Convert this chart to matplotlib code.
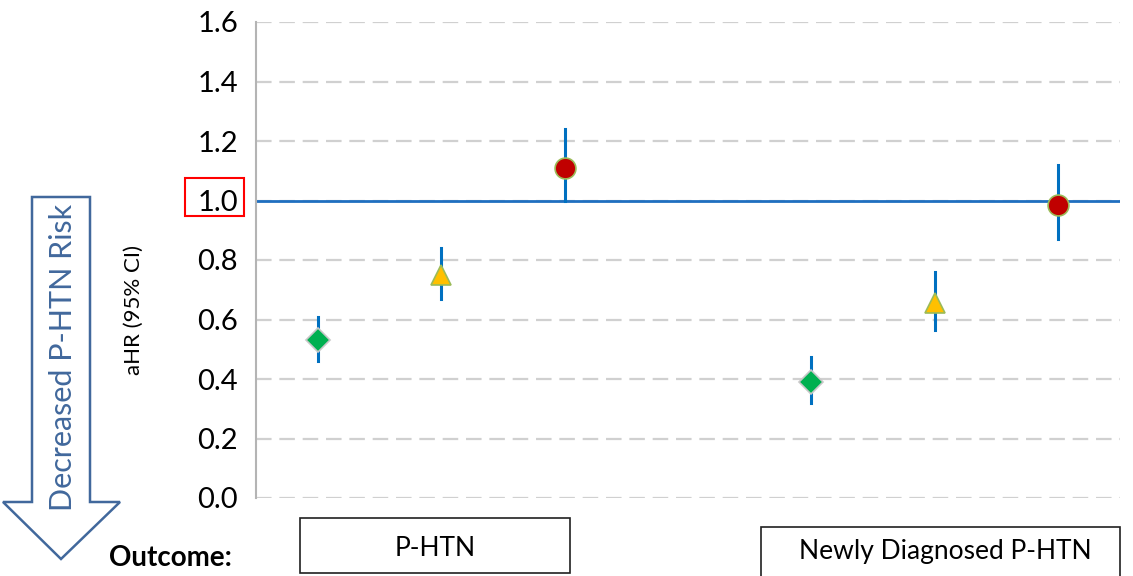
import matplotlib as mpl
mpl.use("Agg")
import matplotlib.pyplot as plt
from matplotlib.patches import Rectangle, Polygon

plt.rcParams['font.family'] = ['Lato', 'DejaVu Sans']

# aHR estimates and 95% CI, two outcomes x three exposures
x_pos = [1, 2, 3, 5, 6, 7]
ahr = [0.53, 0.75, 1.11, 0.39, 0.655, 0.985]
ci_low = [0.46, 0.67, 1.00, 0.32, 0.565, 0.87]
ci_high = [0.61, 0.84, 1.24, 0.475, 0.76, 1.12]
markers = ['D', '^', 'o', 'D', '^', 'o']
yticks = [0.0, 0.2, 0.4, 0.6, 0.8, 1.0, 1.2, 1.4, 1.6]
outcomes = ['P-HTN', 'Newly Diagnosed P-HTN']

W, H = 1133, 576
fig = plt.figure(figsize=(W / 100, H / 100), dpi=100)
ax = fig.add_axes([256 / W, 1 - 498 / H, (1120 - 256) / W, (498 - 22) / H])

ax.set_xlim(0.5, 7.5)
ax.set_ylim(0, 1.6)
ax.set_yticks(yticks)
ax.set_yticklabels(['%.1f' % t for t in yticks], fontsize=21)
ax.set_xticks([])
ax.tick_params(axis='y', length=0, pad=13)
ax.yaxis.grid(True, color='#d0d0d0', lw=1.6, dashes=(7, 3.5))
ax.set_axisbelow(True)
for s in ['top', 'right', 'bottom']:
    ax.spines[s].set_visible(False)
ax.spines['left'].set_color('#b4b4b4')
ax.spines['left'].set_linewidth(1.5)

ax.axhline(1.0, color='#1f6fc0', lw=2, zorder=2)

styles = {
    'D': dict(color='#00b050', mec='#c8c8c8', ms=12, mew=1.2),
    '^': dict(color='#ffc000', mec='#9bbb59', ms=15, mew=1.2),
    'o': dict(color='#c00000', mec='#9bbb59', ms=15, mew=1.2),
}
for x, y, lo, hi, m in zip(x_pos, ahr, ci_low, ci_high, markers):
    ax.plot([x, x], [lo, hi], color='#0070c0', lw=2.2, zorder=3)
    ax.plot(x, y, marker=m, ls='none', zorder=4, **styles[m])

# red box around the reference value
fig.add_artist(Rectangle((185 / W, 1 - 216 / H), 59 / W, 38 / H,
                         transform=fig.transFigure, fill=False,
                         ec='#ff0000', lw=1.5))

fig.text(134 / W, 1 - 310 / H, 'aHR (95% CI)', rotation=90, fontsize=16,
         ha='center', va='center')

# hollow arrow
arrow_pts = [(32, 197), (90, 197), (90, 502), (120, 502), (61, 559),
             (3, 502), (32, 502)]
fig.add_artist(Polygon([(px / W, 1 - py / H) for px, py in arrow_pts],
                       closed=True, transform=fig.transFigure, fill=False,
                       ec='#41689c', lw=1.8))
fig.text(63 / W, 1 - 357 / H, 'Decreased P-HTN Risk', rotation=90,
         fontsize=22, color='#41689c', ha='center', va='center')

fig.text(170 / W, 1 - 558 / H, 'Outcome:', fontsize=20, fontweight='bold',
         ha='center', va='center')

# outcome boxes
for (x0, y0, x1, y1), label in zip([(300, 518, 570, 573), (761, 527, 1120, 580)],
                                   outcomes):
    fig.add_artist(Rectangle((x0 / W, 1 - y1 / H), (x1 - x0) / W, (y1 - y0) / H,
                             transform=fig.transFigure, fill=False,
                             ec='#202020', lw=1.2))
fig.text(435 / W, 1 - 548 / H, outcomes[0], fontsize=19, ha='center', va='center')
fig.text(945 / W, 1 - 551 / H, outcomes[1], fontsize=19, ha='center', va='center')

plt.savefig('out.png', dpi=100)
